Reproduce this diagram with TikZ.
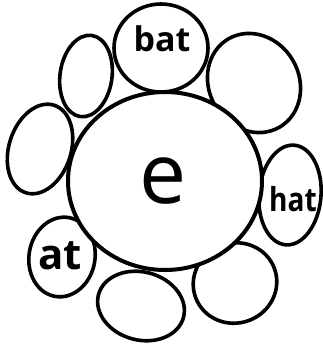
\documentclass[tikz,border=0pt]{standalone}
\usepackage{fontspec}
\setmainfont{Open Sans}
\begin{document}
\begin{tikzpicture}[x=1pt,y=-1pt,
  petal/.style={draw=black,fill=white,line width=3.6pt},
  hub/.style={draw=black,fill=white,line width=4pt},
  word/.style={inner sep=0pt,font=\bfseries\fontsize{34}{34}\selectfont}]
\useasboundingbox[fill=white] (0,0) rectangle (323,354);
% petals
\draw[petal] (86,76) ellipse [x radius=26, y radius=41, rotate=-8];
\draw[petal] (254,83) ellipse [x radius=45, y radius=51, rotate=30];
\draw[petal] (40,149) ellipse [x radius=31, y radius=46, rotate=-18];
\draw[petal] (290,195) ellipse [x radius=31, y radius=50, rotate=-5];
\draw[petal] (62,257) ellipse [x radius=33, y radius=40, rotate=-10];
\draw[petal] (141,306) ellipse [x radius=44, y radius=34, rotate=-15];
\draw[petal] (235,283) ellipse [x radius=42, y radius=40, rotate=20];
\draw[petal] (161,48) ellipse [x radius=47, y radius=44];
% center
\draw[hub] (165,181) ellipse [x radius=97, y radius=89];
% labels
\node[word] (bat) at (162,39) {bat};
\node[word,font=\bfseries\fontsize{33}{33}\selectfont,xscale=0.85] (hat) at (293,199) {hat};
\node[word,font=\bfseries\fontsize{42}{42}\selectfont] (at) at (60,256) {at};
\node[inner sep=0pt,font=\fontsize{84}{84}\selectfont] (e) at (163,181) {e};
\end{tikzpicture}
\end{document}
